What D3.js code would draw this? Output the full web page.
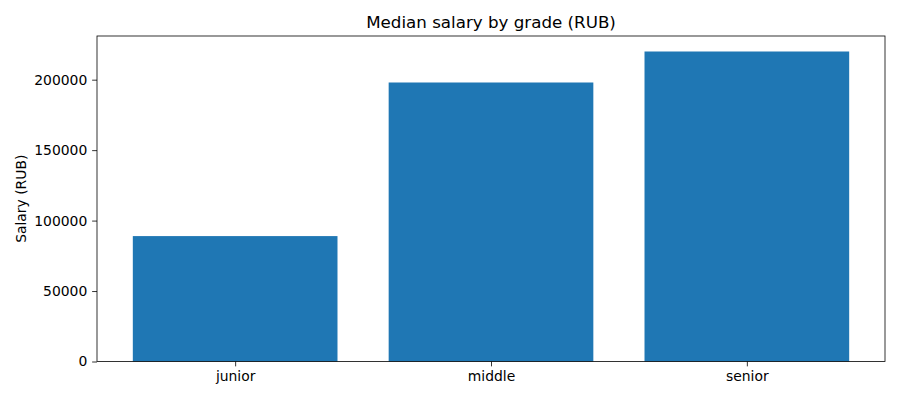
<!DOCTYPE html>
<html><head><meta charset="utf-8">
<script src="https://cdn.jsdelivr.net/npm/d3@7"></script>
<style>body{margin:0;background:#fff}svg{display:block;font-family:"DejaVu Sans",sans-serif}</style>
</head><body><svg id="c" width="900" height="400"></svg>
<script>
const categories = ["junior", "middle", "senior"];
const salaries = [89000, 198000, 220000];
const yTicks = [0, 50000, 100000, 150000, 200000];
const titleText = "Median salary by grade (RUB)";
const yLabel = "Salary (RUB)";

const svg = d3.select("#c");
const m = {left: 97, right: 885, top: 36, bottom: 361.5};
const x = d3.scaleLinear().domain([-0.54, 2.54]).range([m.left, m.right]);
const y = d3.scaleLinear().domain([0, d3.max(salaries) * 1.05]).range([m.bottom, m.top]);
const bw = 0.8;

svg.append("g").selectAll("rect").data(salaries).join("rect")
  .attr("x", (d, i) => x(i - bw / 2))
  .attr("width", (d, i) => x(i + bw / 2) - x(i - bw / 2))
  .attr("y", d => y(d))
  .attr("height", d => y(0) - y(d))
  .attr("fill", "#1f77b4");

const yAxis = svg.append("g").attr("transform", `translate(${m.left},0)`)
  .call(d3.axisLeft(y).tickValues(yTicks).tickFormat(d3.format("d")).tickSize(4.86).tickPadding(4.86));
const xAxis = svg.append("g").attr("transform", `translate(0,${m.bottom})`)
  .call(d3.axisBottom(x).tickValues(d3.range(categories.length)).tickFormat(i => categories[i]).tickSize(4.86).tickPadding(4.86));
[yAxis, xAxis].forEach(g => {
  g.select(".domain").remove();
  g.selectAll("text").attr("font-size", "13.9px").attr("fill", "#000").attr("font-family", "DejaVu Sans");
  g.selectAll("line").attr("stroke", "#000").attr("stroke-width", 0.8);
});

svg.append("rect").attr("x", m.left).attr("y", m.top)
  .attr("width", m.right - m.left).attr("height", m.bottom - m.top)
  .attr("fill", "none").attr("stroke", "#000").attr("stroke-width", 0.8);

svg.append("text").attr("x", (m.left + m.right) / 2).attr("y", 28)
  .attr("text-anchor", "middle").attr("font-size", "16.7px").text(titleText);

svg.append("text").attr("transform", `translate(26,${(m.top + m.bottom) / 2}) rotate(-90)`)
  .attr("text-anchor", "middle").attr("font-size", "13.9px").text(yLabel);
</script></body></html>
